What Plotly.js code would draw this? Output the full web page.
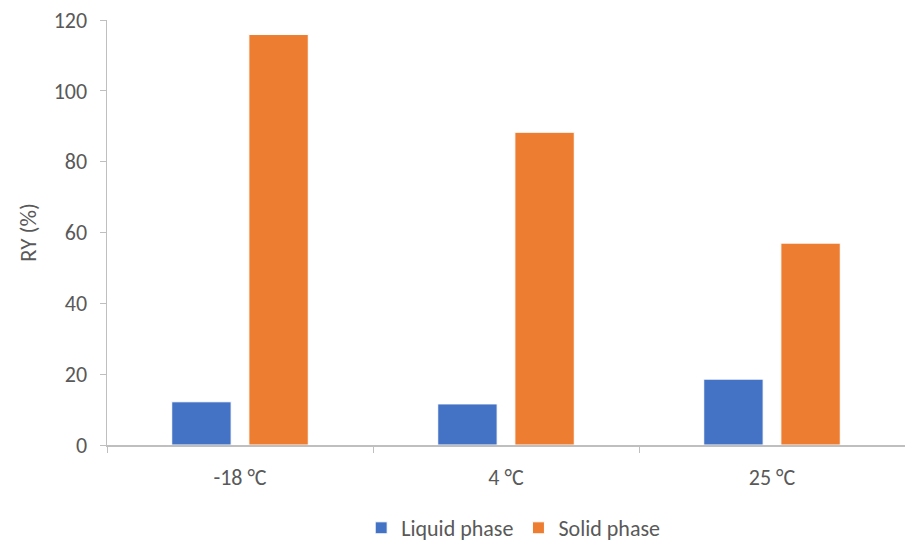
<!DOCTYPE html>
<html>
<head>
<meta charset="utf-8">
<script src="https://cdn.plot.ly/plotly-3.0.1.min.js"></script>
<style>html,body{margin:0;padding:0;background:#fff;}#chart{width:905px;height:541px;}</style>
</head>
<body>
<div id="chart"></div>
<script>
const categories = ["-18 °C", "4 °C", "25 °C"];
const liquidPhase = [12.2, 11.6, 18.6];
const solidPhase = [115.9, 88.3, 57.0];
const seriesNames = ["Liquid phase", "Solid phase"];
const yTicks = [0, 20, 40, 60, 80, 100, 120];

const font = "Calibri, Carlito, Lato, 'Liberation Sans', sans-serif";
const grey = "#595959";
const traces = [
  {type: "bar", name: seriesNames[0], x: categories, y: liquidPhase,
   marker: {color: "#4472C4", line: {color: "#ffffff", width: 1}}, hoverinfo: "none"},
  {type: "bar", name: seriesNames[1], x: categories, y: solidPhase,
   marker: {color: "#ED7D31", line: {color: "#ffffff", width: 1}}, hoverinfo: "none"}
];
const layout = {
  width: 905, height: 541,
  margin: {l: 107, r: 0, t: 20, b: 96, autoexpand: false},
  paper_bgcolor: "#fff", plot_bgcolor: "#fff",
  barmode: "group", bargap: 0.42, bargroupgap: 0.23,
  font: {family: font, size: 22, color: grey},
  xaxis: {
    type: "category", range: [-0.5, 2.5], automargin: false,
    showline: true, linecolor: "#BFBFBF", linewidth: 1.5,
    ticks: "outside", tickson: "boundaries", ticklen: 6, tickcolor: "#BFBFBF",
    showgrid: false, zeroline: false, ticklabelstandoff: 12,
    tickfont: {family: font, size: 22, color: grey}
  },
  yaxis: {
    range: [0, 120], tickvals: yTicks, automargin: false,
    showline: true, linecolor: "#BFBFBF", linewidth: 1.5,
    ticks: "outside", ticklen: 6, tickcolor: "#BFBFBF",
    showgrid: false, zeroline: false, ticklabelstandoff: 8,
    tickfont: {family: font, size: 22, color: grey},
    title: {text: "RY (%)", font: {family: font, size: 23, color: grey}, standoff: 10}
  },
  showlegend: true,
  legend: {orientation: "h", x: 0.509, xanchor: "center", xref: "paper",
           y: 13 / 541, yref: "container", yanchor: "middle", itemwidth: 30,
           font: {family: font, size: 22, color: grey}, traceorder: "normal"}
};
Plotly.newPlot("chart", traces, layout, {staticPlot: true, displayModeBar: false});
</script>
</body>
</html>
